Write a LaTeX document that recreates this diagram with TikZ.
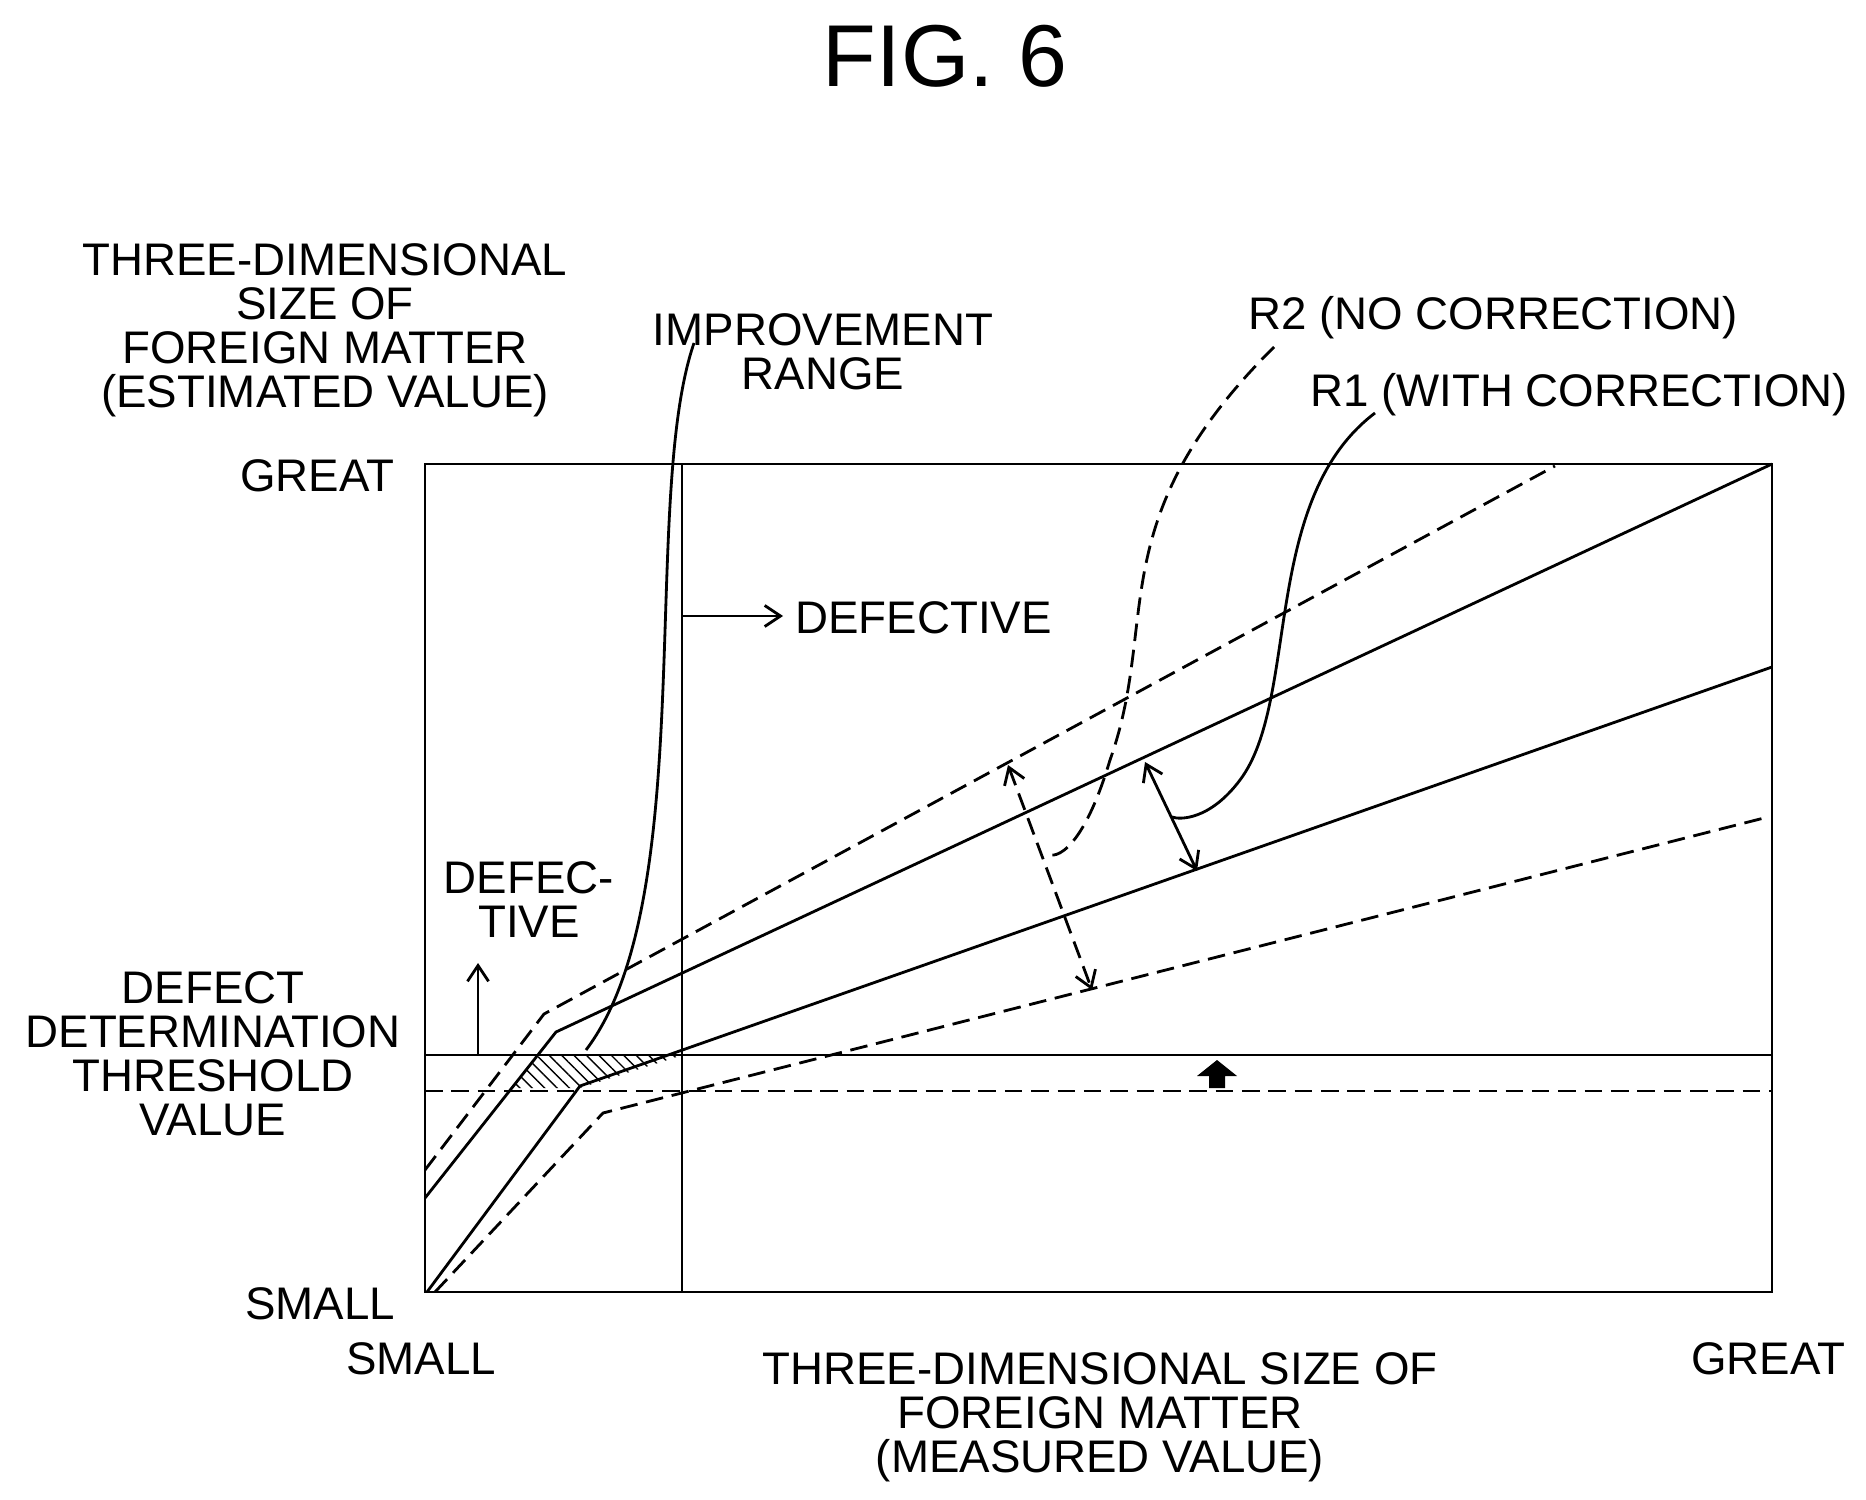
\documentclass[tikz,border=0pt]{standalone}
\usepackage{fontspec}
\setmainfont{Liberation Sans}
\usetikzlibrary{patterns.meta,arrows.meta}

\tikzset{
  lbl/.style={align=center,font=\fontsize{26}{25}\selectfont,inner sep=0pt},
  ln/.style={line width=1.6pt},
  dsh/.style={line width=1.6pt,dash pattern=on 10pt off 5pt},
  tip/.style={-{Straight Barb[length=9pt,width=12pt]}},
  tips/.style={{Straight Barb[length=9pt,width=12pt]}-{Straight Barb[length=9pt,width=12pt]}}
}

\begin{document}
\begin{tikzpicture}[x=0.02cm,y=-0.02cm]
\useasboundingbox (0,0) rectangle (1866,1500);

% title and axis texts
\node[lbl,font=\fontsize{50}{60}\selectfont] (fig) at (945,56) {FIG. 6};
\node[lbl] (ylab) at (325,330) {THREE-DIMENSIONAL\\SIZE OF\\FOREIGN MATTER\\(ESTIMATED VALUE)};
\node[lbl] (ygreat) at (317,476) {GREAT};
\node[lbl] (ysmall) at (320,1304) {SMALL};
\node[lbl] (xsmall) at (421,1359) {SMALL};
\node[lbl] (xgreat) at (1768,1359) {GREAT};
\node[lbl] (xlab) at (1100,1417) {THREE-DIMENSIONAL SIZE OF\\FOREIGN MATTER\\(MEASURED VALUE)};
\node[lbl] (impr) at (823,352) {IMPROVEMENT\\RANGE};
\node[lbl] (rtwo) at (1493,318) {R2 (NO CORRECTION)};
\node[lbl] (rone) at (1579,395) {R1 (WITH CORRECTION)};
\node[lbl,anchor=west] (defr) at (795,618) {DEFECTIVE};
\node[lbl] (defu) at (529,900) {DEFEC-\\TIVE};
\node[lbl] (thr) at (213,1054) {DEFECT\\DETERMINATION\\THRESHOLD\\VALUE};

% frame and limits
\draw[ln] (425,464) rectangle (1772,1292);
\draw[ln] (682,464) -- (682,1292);
\draw[ln] (425,1055) -- (1772,1055);
\draw[dsh] (425,1091) -- (1772,1091);

% improvement range
\fill[pattern={Lines[angle=-45,distance=5pt,line width=0.8pt]}] (540,1055) -- (683,1055) -- (580,1088) -- (511,1088) -- cycle;

% characteristic lines
\draw[dsh] (425,1170) -- (544,1014) -- (1555,466);
\draw[ln]  (425,1198) -- (556,1032) -- (1772,464);
\draw[ln]  (427,1292) -- (580,1086) -- (1772,667);
\draw[dsh] (435,1292) -- (603,1113) -- (1768,817);

% arrows
\draw[ln,tip] (682,616) -- (783,616);
\draw[ln,tip] (478,1055) -- (478,963);
\draw[dsh,tips] (1008,765) -- (1092,990);
\draw[ln,tips] (1145,762) -- (1197,871);
\fill (1209,1088) -- (1209,1076) -- (1197,1076) -- (1217,1060) -- (1237,1076) -- (1225,1076) -- (1225,1088) -- cycle;

% leaders
\draw[ln] (694,343) .. controls (640,500) and (700,900) .. (586,1050);
\draw[dsh] (1274,347) .. controls (1100,520) and (1160,620) .. (1110,760) .. controls (1080,860) and (1050,860) .. (1046,852);
\draw[ln] (1375,413) .. controls (1260,500) and (1300,700) .. (1240,780) .. controls (1210,820) and (1180,820) .. (1172,817);
\end{tikzpicture}
\end{document}
